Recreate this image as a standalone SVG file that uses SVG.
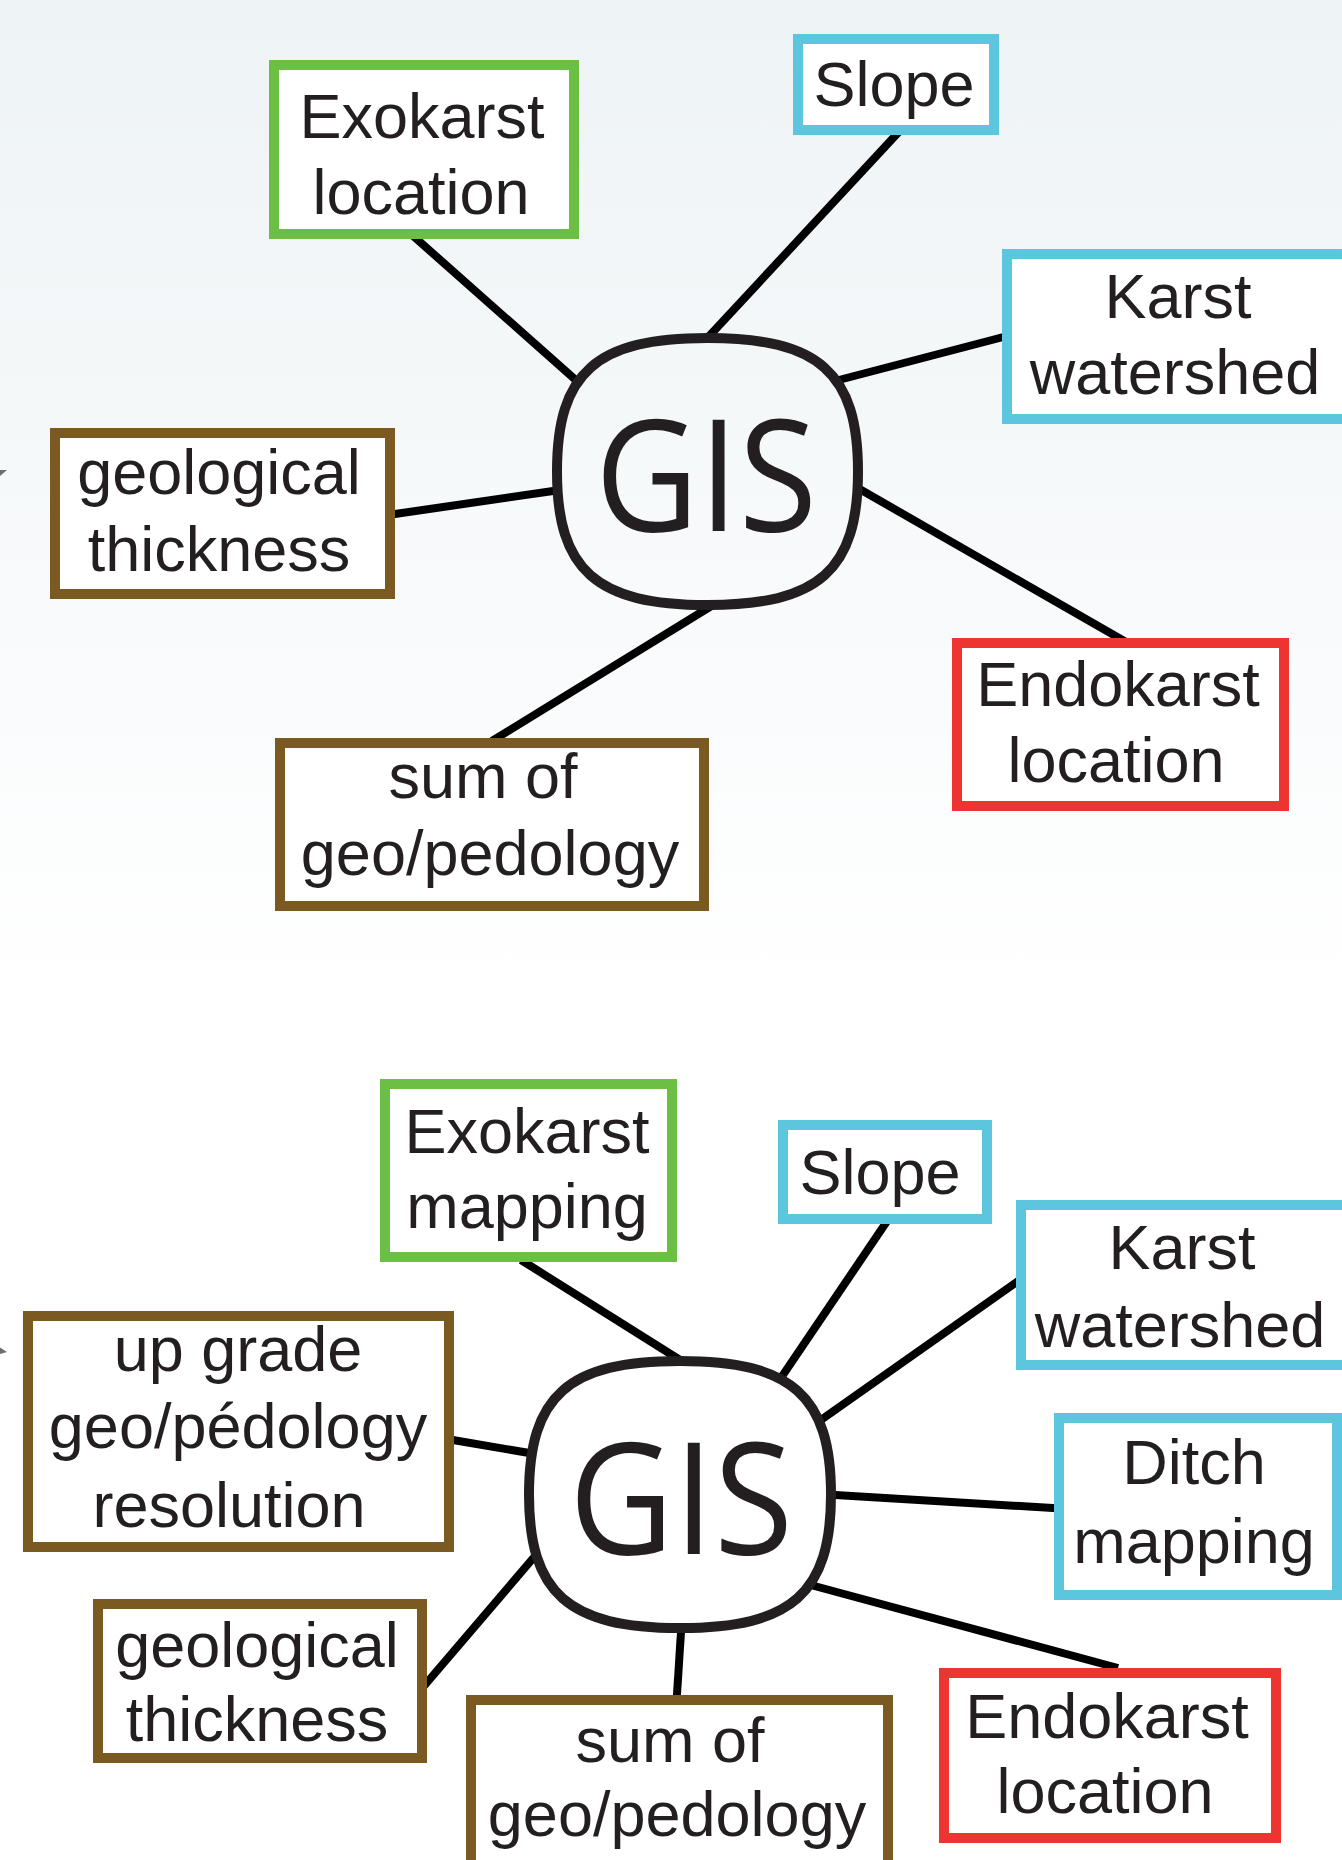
<svg xmlns="http://www.w3.org/2000/svg" width="1342" height="1860" viewBox="0 0 1342 1860">
<defs>
<linearGradient id="bg" gradientUnits="userSpaceOnUse" x1="0" y1="0" x2="0" y2="1000">
<stop offset="0" stop-color="#eef3f5"/>
<stop offset="1" stop-color="#ffffff"/>
</linearGradient>
<style>
.box{fill:#ffffff;stroke-width:10}
.g{stroke:#6cbf45}
.c{stroke:#5bc6dd}
.b{stroke:#7a5a21}
.r{stroke:#ee3431}
.t{font-family:"Liberation Sans",Arial,sans-serif;font-size:63px;fill:#231f20;text-anchor:middle}
.gis{fill:url(#bg);stroke:#231f20;stroke-width:10}
.gt{font-family:"Open Sans","Noto Sans",sans-serif;font-size:155px;fill:#231f20;text-anchor:middle}
.ln{stroke:#000000;stroke-width:8;fill:none}
</style>
</defs>
<rect x="0" y="0" width="1342" height="1860" fill="url(#bg)"/>
<polygon points="0,470 7,470 0,476" fill="#6d6e70"/>
<polygon points="0,1347.5 7,1352 0,1354" fill="#6d6e70"/>
<g id="connectors">
<line class="ln" x1="411" y1="234" x2="578" y2="382"/>
<line class="ln" x1="901.5" y1="129" x2="705.5" y2="340"/>
<line class="ln" x1="1011" y1="335" x2="835" y2="381"/>
<line class="ln" x1="388" y1="515" x2="560" y2="490"/>
<line class="ln" x1="856" y1="487" x2="1126" y2="642"/>
<line class="ln" x1="713" y1="605" x2="492" y2="741"/>
<line class="ln" x1="521" y1="1260" x2="688" y2="1365"/>
<line class="ln" x1="888.5" y1="1219" x2="775.5" y2="1386"/>
<line class="ln" x1="1021" y1="1279" x2="818" y2="1422"/>
<line class="ln" x1="827" y1="1494.5" x2="1061" y2="1508.5"/>
<line class="ln" x1="807" y1="1584" x2="1118" y2="1668"/>
<line class="ln" x1="681.5" y1="1624" x2="676.5" y2="1702"/>
<line class="ln" x1="541" y1="1549" x2="424" y2="1686"/>
<line class="ln" x1="447" y1="1439" x2="541" y2="1455"/>
</g>
<g id="gis-top">
<path class="gis" d="M707.5,338 C818.87,338 858,372.71 858,471.5 C858,570.29 818.87,605 707.5,605 C596.13,605 557,570.29 557,471.5 C557,372.71 596.13,338 707.5,338 Z"/>
<text class="gt" x="706" y="531" textLength="222" lengthAdjust="spacingAndGlyphs">GIS</text>
</g>
<g id="exokarst-location">
<rect class="box g" x="274" y="65" width="300" height="169"/>
<text class="t" x="422" y="138">Exokarst</text>
<text class="t" x="421" y="214">location</text>
</g>
<g id="slope-top">
<rect class="box c" x="798" y="39" width="196" height="91"/>
<text class="t" x="894" y="106">Slope</text>
</g>
<g id="karst-watershed-top">
<rect class="box c" x="1007" y="254" width="345" height="165"/>
<text class="t" x="1178" y="318">Karst</text>
<text class="t" x="1175" y="394">watershed</text>
</g>
<g id="geological-thickness-top">
<rect class="box b" x="55" y="433" width="335" height="161"/>
<text class="t" x="219" y="494">geological</text>
<text class="t" x="219" y="571">thickness</text>
</g>
<g id="endokarst-location-top">
<rect class="box r" x="957" y="643" width="327" height="163"/>
<text class="t" x="1118" y="706">Endokarst</text>
<text class="t" x="1116" y="782">location</text>
</g>
<g id="sum-geo-pedology-top">
<rect class="box b" x="280" y="743" width="424" height="163"/>
<text class="t" x="483" y="798">sum of</text>
<text class="t" x="490" y="875">geo/pedology</text>
</g>
<g id="gis-bottom">
<path class="gis" d="M680,1361 C791.74,1361 831,1395.71 831,1494.5 C831,1593.29 791.74,1628 680,1628 C568.26,1628 529,1593.29 529,1494.5 C529,1395.71 568.26,1361 680,1361 Z"/>
<text class="gt" x="681" y="1554" textLength="224" lengthAdjust="spacingAndGlyphs">GIS</text>
</g>
<g id="exokarst-mapping">
<rect class="box g" x="385" y="1084" width="287" height="173"/>
<text class="t" x="527" y="1153">Exokarst</text>
<text class="t" x="527" y="1228">mapping</text>
</g>
<g id="slope-bottom">
<rect class="box c" x="783" y="1125" width="204" height="94"/>
<text class="t" x="880" y="1194">Slope</text>
</g>
<g id="karst-watershed-bottom">
<rect class="box c" x="1021" y="1205" width="340" height="160"/>
<text class="t" x="1182" y="1269">Karst</text>
<text class="t" x="1180" y="1347">watershed</text>
</g>
<g id="ditch-mapping">
<rect class="box c" x="1059" y="1418" width="278" height="177"/>
<text class="t" x="1194" y="1484">Ditch</text>
<text class="t" x="1194" y="1563">mapping</text>
</g>
<g id="endokarst-location-bottom">
<rect class="box r" x="944" y="1673" width="332" height="165"/>
<text class="t" x="1107" y="1738">Endokarst</text>
<text class="t" x="1105" y="1813">location</text>
</g>
<g id="sum-geo-pedology-bottom">
<rect class="box b" x="471" y="1700" width="417" height="200"/>
<text class="t" x="670" y="1762">sum of</text>
<text class="t" x="677" y="1836">geo/pedology</text>
</g>
<g id="geological-thickness-bottom">
<rect class="box b" x="98" y="1604" width="324" height="154"/>
<text class="t" x="257" y="1667">geological</text>
<text class="t" x="257" y="1741">thickness</text>
</g>
<g id="upgrade-resolution">
<rect class="box b" x="28" y="1316" width="421" height="231"/>
<text class="t" x="238" y="1371">up grade</text>
<text class="t" x="238" y="1448">geo/pédology</text>
<text class="t" x="229" y="1527">resolution</text>
</g>
</svg>
